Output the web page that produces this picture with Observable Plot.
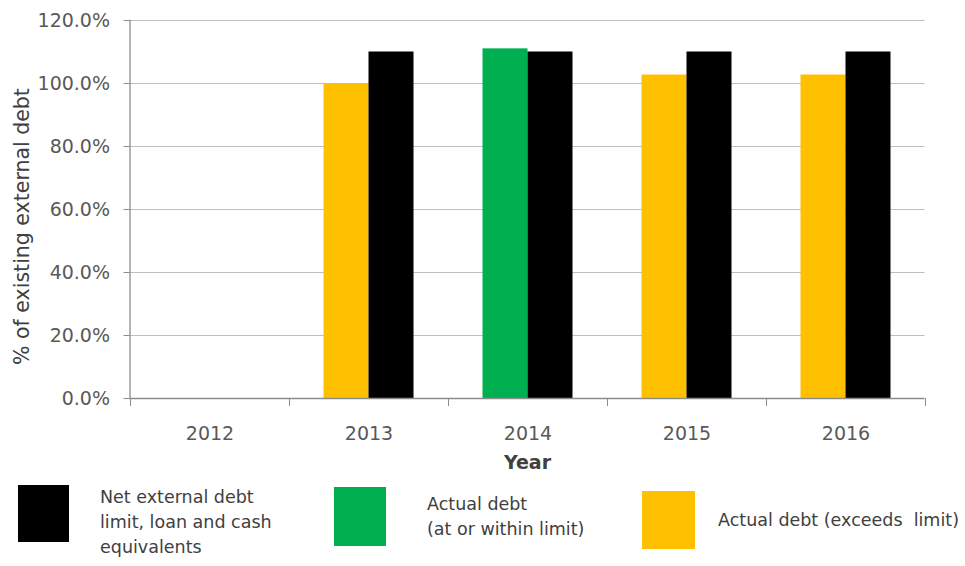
<!DOCTYPE html>
<html>
<head>
<meta charset="utf-8">
<script src="https://cdn.jsdelivr.net/npm/d3@7"></script>
<script src="https://cdn.jsdelivr.net/npm/@observablehq/plot@0.6"></script>
<style>
  html, body { margin: 0; padding: 0; background: #fff; }
  #wrap { position: relative; width: 965px; height: 566px; overflow: hidden; font-family: "DejaVu Sans", sans-serif; }
  #chart svg { display: block; }
  .sw { position: absolute; }
  .lt { position: absolute; font-size: 17.5px; line-height: 25px; color: #404040; white-space: nowrap; }
</style>
</head>
<body>
<div id="wrap">
  <div id="chart"></div>
  <div class="sw" style="left:18px;top:485px;width:51px;height:57px;background:#000000"></div>
  <div class="lt" style="left:100px;top:485px">Net external debt<br>limit, loan and cash<br>equivalents</div>
  <div class="sw" style="left:334px;top:487px;width:52px;height:59px;background:#00B050"></div>
  <div class="lt" style="left:427px;top:492px">Actual debt<br>(at or within limit)</div>
  <div class="sw" style="left:642px;top:491px;width:53px;height:58px;background:#FFC000"></div>
  <div class="lt" style="left:718px;top:508px">Actual debt (exceeds&nbsp; limit)</div>
</div>
<script>
// Data
const years = ["2012", "2013", "2014", "2015", "2016"];
const actualDebt = [null, 100, 111, 102.7, 102.7];           // % of existing external debt
const debtLimit = [null, 110, 110, 110, 110];                // net external debt limit, loan and cash equivalents
const actualStatus = [null, "exceeds", "within", "exceeds", "exceeds"];
const yTicks = [0, 20, 40, 60, 80, 100, 120];

const statusColors = {within: "#00B050", exceeds: "#FFC000"};
const limitColor = "#000000";

const actualRows = years.map((year, i) => ({year, value: actualDebt[i], status: actualStatus[i]}));
const limitRows = years.map((year, i) => ({year, value: debtLimit[i]}));

const chart = Plot.plot({
  width: 965,
  height: 478,
  marginLeft: 129.5,
  marginRight: 40.5,
  marginTop: 20,
  marginBottom: 80,
  style: {fontFamily: "DejaVu Sans, sans-serif", fontSize: "19px", color: "#595959", background: "white"},
  x: {type: "band", domain: years, padding: 0, label: null},
  y: {domain: [0, 120], label: null},
  marks: [
    Plot.ruleY(yTicks.filter(d => d > 0), {y: d => d, stroke: "#bfbfbf", strokeWidth: 1.2}),
    Plot.barY(actualRows, {x: "year", y: "value", fill: d => statusColors[d.status], insetLeft: 34.5, insetRight: 79.5}),
    Plot.barY(limitRows, {x: "year", y: "value", fill: limitColor, insetLeft: 79.5, insetRight: 34.5}),
    Plot.ruleY([0], {stroke: "#8c8c8c", strokeWidth: 1.3}),
    Plot.axisY({ticks: yTicks, tickFormat: d => d.toFixed(1) + "%", tickSize: 6, tickPadding: 14, stroke: "#8c8c8c", label: null}),
    Plot.frame({anchor: "left", stroke: "#8c8c8c", strokeWidth: 1.3}),
    Plot.axisX({ticks: years, tickSize: 8, tickFormat: () => "", dx: -79.5, stroke: "#8c8c8c", label: null}),
    Plot.axisX({ticks: [years[years.length - 1]], tickSize: 8, tickFormat: () => "", dx: 79.5, stroke: "#8c8c8c", label: null}),
    Plot.axisX({ticks: years, tickSize: 0, tickPadding: 28, label: null}),
    Plot.text(["Year"], {text: d => d, frameAnchor: "bottom", dy: 70, fontSize: 19, fill: "#404040", fontWeight: "bold"}),
    Plot.text(["% of existing external debt"], {text: d => d, frameAnchor: "left", textAnchor: "middle", rotate: -90, dx: -107.5, dy: 17, fontSize: 20.5, fill: "#404040"})
  ]
});
document.getElementById("chart").appendChild(chart);
</script>
</body>
</html>
